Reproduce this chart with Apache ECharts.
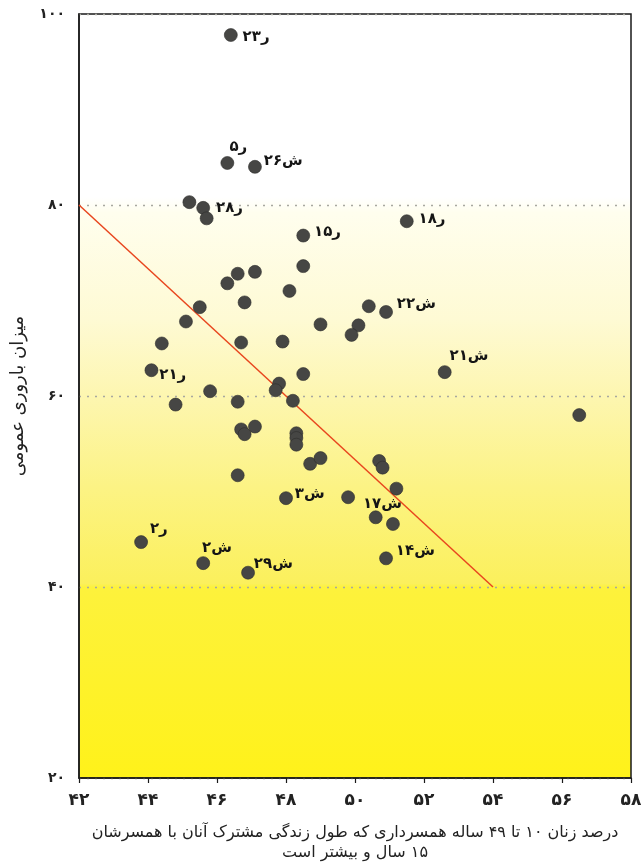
<!DOCTYPE html>
<html>
<head>
<meta charset="utf-8">
<script src="https://cdn.jsdelivr.net/npm/echarts@6/dist/echarts.min.js"></script>
<style>
html,body{margin:0;padding:0;background:#fff;}
#c{width:641px;height:864px;}
</style>
</head>
<body>
<div id="c"></div>
<script>
// ---- data ----
var xValues = [46.4, 46.3, 47.1, 45.2, 45.6, 45.7, 48.5, 51.5, 48.5, 46.6, 47.1, 46.3, 48.1, 46.8, 45.5, 50.4, 50.9, 45.1, 49.0, 50.1, 49.9, 44.4, 46.7, 47.9, 44.1, 48.5, 47.8, 47.7, 45.8, 44.8, 46.6, 48.2, 46.7, 46.8, 47.1, 48.3, 48.3, 48.3, 48.7, 49.0, 50.7, 50.8, 46.6, 51.2, 48.0, 49.8, 50.6, 51.1, 43.8, 45.6, 46.9, 50.9, 52.6, 56.5];
var yValues = [97.8, 84.4, 84.0, 80.3, 79.7, 78.6, 76.8, 78.3, 73.6, 72.8, 73.0, 71.8, 71.0, 69.8, 69.3, 69.4, 68.8, 67.8, 67.5, 67.4, 66.4, 65.5, 65.6, 65.7, 62.7, 62.3, 61.3, 60.6, 60.5, 59.1, 59.4, 59.5, 56.5, 56.0, 56.8, 56.1, 55.6, 54.9, 52.9, 53.5, 53.2, 52.5, 51.7, 50.3, 49.3, 49.4, 47.3, 46.6, 44.7, 42.5, 41.5, 43.0, 62.5, 58.0];
var pointLabels = ['ر۲۳', 'ر۵', 'ش۲۶', '', 'ر۲۸', '', 'ر۱۵', 'ر۱۸', '', '', '', '', '', '', '', '', 'ش۲۲', '', '', '', '', '', '', '', 'ر۲۱', '', '', '', '', '', '', '', '', '', '', '', '', '', '', '', '', '', '', '', 'ش۳', 'ش۱۷', '', '', 'ر۲', 'ش۲', 'ش۲۹', 'ش۱۴', 'ش۲۱', ''];
var trendX = [42, 54];
var trendY = [80, 40];
var xTicks = [42, 44, 46, 48, 50, 52, 54, 56, 58];
var yTicks = [20, 40, 60, 80, 100];
var xTitleLines = ['درصد زنان ۱۰ تا ۴۹ ساله همسرداری که طول زندگی مشترک آنان با همسرشان', '۱۵ سال و بیشتر است'];
var yTitle = 'میزان باروری عمومی';

// ---- label placement (style) ----
var labelStyle = {
  'ر۲۳': {pos: 'right', off: [0, 2]},
  'ر۵': {pos: 'top', off: [11, 3]},
  'ش۲۶': {pos: 'right', off: [-3, -6]},
  'ر۲۸': {pos: 'right', off: [1, 0]},
  'ر۱۵': {pos: 'right', off: [-1, -3]},
  'ر۱۸': {pos: 'right', off: [0, -2]},
  'ش۲۲': {pos: 'right', off: [-1, -8]},
  'ش۲۱': {pos: 'right', off: [-7, -16]},
  'ر۲۱': {pos: 'right', off: [-4, 5]},
  'ش۳': {pos: 'right', off: [-3, -4]},
  'ش۱۷': {pos: 'right', off: [3, 7]},
  'ر۲': {pos: 'right', off: [-3, -13]},
  'ش۲': {pos: 'right', off: [-13, -15]},
  'ش۲۹': {pos: 'right', off: [-6, -9]},
  'ش۱۴': {pos: 'right', off: [-2, -7]}
};

var RLM = '\u200F';
function fa(v) {
  return String(v).replace(/\d/g, function (d) { return '۰۱۲۳۴۵۶۷۸۹'[+d]; });
}

var FONT = "'DejaVu Sans', sans-serif";

var points = xValues.map(function (x, i) {
  var item = {value: [x, yValues[i]]};
  var lab = pointLabels[i];
  if (lab) {
    var st = labelStyle[lab] || {pos: 'right', off: [0, 0]};
    item.label = {show: true, formatter: lab, position: st.pos, offset: st.off};
  }
  return item;
});

var trend = trendX.map(function (x, i) { return [x, trendY[i]]; });

var chart = echarts.init(document.getElementById('c'), null, {renderer: 'canvas'});
chart.setOption({
  animation: false,
  backgroundColor: '#ffffff',
  grid: {
    left: 79, right: 10, top: 14, bottom: 86,
    outerBoundsMode: 'none',
    containLabel: false,
    show: true,
    borderColor: '#1a1a1a',
    borderWidth: 1.5,
    backgroundColor: new echarts.graphic.LinearGradient(0, 0, 0, 1, [
      {offset: 0, color: '#ffffff'},
      {offset: 0.24, color: '#ffffff'},
      {offset: 0.26, color: '#fffeee'},
      {offset: 0.40, color: '#fefad4'},
      {offset: 0.50, color: '#fdf6b0'},
      {offset: 0.62, color: '#fcf384'},
      {offset: 0.745, color: '#fbf05c'},
      {offset: 0.75, color: '#fdf23c'},
      {offset: 1, color: '#fff21a'}
    ])
  },
  xAxis: {
    type: 'value',
    min: xTicks[0], max: xTicks[xTicks.length - 1], interval: 2,
    axisLine: {show: true, lineStyle: {color: '#1a1a1a', width: 1.5}},
    axisTick: {show: true, length: 5, lineStyle: {color: '#1a1a1a', width: 1.2}},
    splitLine: {show: false},
    axisLabel: {
      margin: 14, fontSize: 17, fontWeight: 'bold', color: '#222', fontFamily: FONT,
      formatter: function (v) { return fa(v); }
    },
    name: xTitleLines.map(function (s) { return RLM + s; }).join('\n'),
    nameLocation: 'middle',
    nameGap: 45,
    nameTextStyle: {fontSize: 16, color: '#222', fontFamily: FONT, lineHeight: 20, align: 'center'}
  },
  yAxis: {
    type: 'value',
    min: yTicks[0], max: yTicks[yTicks.length - 1], interval: 20,
    axisLine: {show: true, lineStyle: {color: '#1a1a1a', width: 1.5}},
    axisTick: {show: false},
    splitLine: {show: true, lineStyle: {color: '#a8a8a0', type: [2, 6], width: 1.3}},
    axisLabel: {
      margin: 14, fontSize: 14, fontWeight: 'bold', color: '#222', fontFamily: FONT,
      formatter: function (v) { return fa(v); }
    },
    name: yTitle,
    nameLocation: 'middle',
    nameRotate: 90,
    nameGap: 52,
    nameTextStyle: {fontSize: 18, color: '#222', fontFamily: FONT}
  },
  series: [
    {
      type: 'line',
      data: trend,
      symbol: 'none',
      z: 1,
      lineStyle: {color: '#e8461e', width: 1.5},
      silent: true
    },
    {
      type: 'scatter',
      data: points,
      symbol: 'circle',
      symbolSize: 13,
      z: 3,
      itemStyle: {color: '#464644', borderColor: '#2e2e2c', borderWidth: 0.6, opacity: 1},
      label: {
        show: false, distance: 5, fontSize: 15, fontWeight: 'bold', color: '#151515', fontFamily: FONT
      }
    }
  ]
});
</script>
</body>
</html>
